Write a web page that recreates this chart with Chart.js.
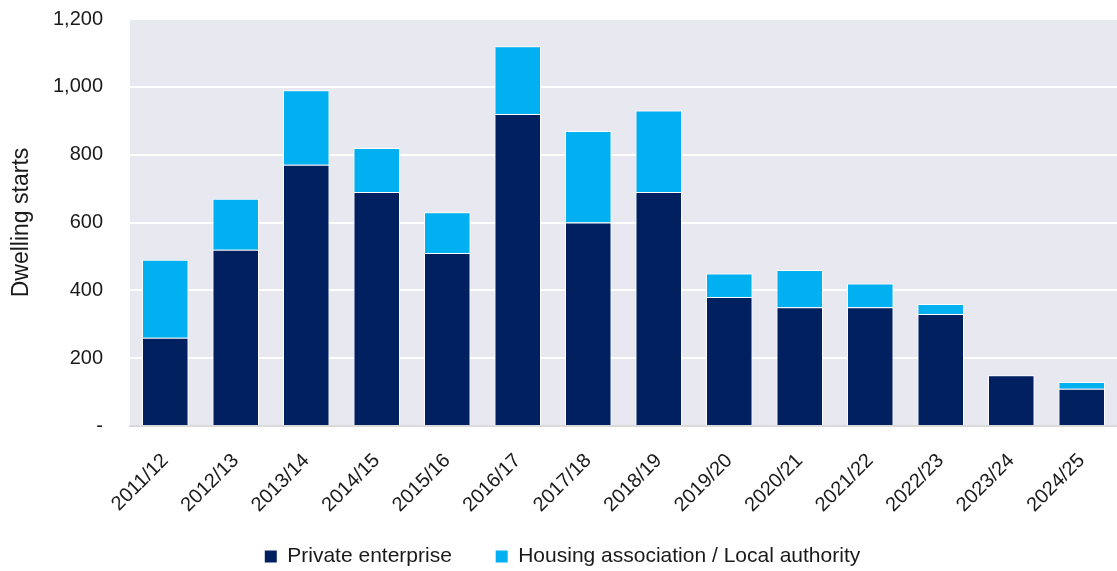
<!DOCTYPE html>
<html>
<head>
<meta charset="utf-8">
<script src="https://cdn.jsdelivr.net/npm/chart.js@4/dist/chart.umd.min.js"></script>
<style>
  html, body { margin: 0; padding: 0; background: #fff; }
  #wrap { width: 1117px; height: 571px; }
</style>
</head>
<body>
<div id="wrap"><canvas id="chart-starts"></canvas></div>
<script>
const years = ['2011/12', '2012/13', '2013/14', '2014/15', '2015/16', '2016/17', '2017/18',
               '2018/19', '2019/20', '2020/21', '2021/22', '2022/23', '2023/24', '2024/25'];
const privateStarts = [260, 520, 770, 690, 510, 920, 600, 690, 380, 350, 350, 330, 150, 110];
const housingStarts = [230, 150, 220, 130, 120, 200, 270, 240, 70, 110, 70, 30, 0, 20];
const yTicks = [0, 200, 400, 600, 800, 1000, 1200];

const FONT = "'Liberation Sans', Arial, sans-serif";
const INK = '#1a1a1a';

// grey-lilac fill behind the plot area
const plotBg = {
    id: 'plotBg',
    beforeDraw(chart) {
        const { ctx, chartArea: a } = chart;
        ctx.save();
        ctx.fillStyle = '#E8E8F1';
        ctx.fillRect(a.left, a.top, a.right - a.left, a.bottom - a.top);
        ctx.restore();
    }
};

new Chart(document.getElementById('chart-starts'), {
    type: 'bar',
    data: {
        labels: years,
        datasets: [
            {
                label: 'Private enterprise',
                data: privateStarts,
                backgroundColor: '#002060',
                borderColor: '#ffffff',
                borderWidth: 1,
                barPercentage: 0.66,
                categoryPercentage: 1
            },
            {
                label: 'Housing association / Local authority',
                data: housingStarts,
                backgroundColor: '#00B0F0',
                borderColor: '#ffffff',
                borderWidth: 1,
                barPercentage: 0.66,
                categoryPercentage: 1
            }
        ]
    },
    options: {
        responsive: true,
        maintainAspectRatio: false,
        animation: false,
        layout: { padding: { top: 0, right: 0, left: 8, bottom: -6 } },
        plugins: {
            tooltip: { enabled: false },
            legend: {
                position: 'bottom',
                labels: {
                    color: INK,
                    font: { family: FONT, size: 21 },
                    boxWidth: 12,
                    boxHeight: 12,
                    padding: 3,
                    // wider gap between the two legend entries
                    generateLabels(chart) {
                        const items = Chart.defaults.plugins.legend.labels.generateLabels(chart);
                        items.forEach((it, i) => {
                            it.lineWidth = 0;
                            if (i < items.length - 1) it.text += '       ';
                        });
                        return items;
                    }
                }
            }
        },
        scales: {
            x: {
                stacked: true,
                grid: { display: false, drawTicks: false },
                border: { display: true, color: '#D9D9D9', width: 2 },
                ticks: {
                    color: INK,
                    font: { family: FONT, size: 20 },
                    minRotation: 45,
                    maxRotation: 45,
                    padding: 23
                },
                afterFit(s) {
                    s.height = 117;
                    s.paddingLeft = 0;
                    s.paddingRight = 0;
                }
            },
            y: {
                stacked: true,
                min: 0,
                max: 1200,
                afterBuildTicks(s) { s.ticks = yTicks.map(v => ({ value: v })); },
                grid: { color: '#ffffff', lineWidth: 2, drawTicks: false },
                border: { display: false },
                ticks: {
                    color: INK,
                    font: { family: FONT, size: 20 },
                    padding: 27,
                    callback: v => v === 0 ? '-' : v.toLocaleString('en-US')
                },
                title: {
                    display: true,
                    text: 'Dwelling starts',
                    color: INK,
                    font: { family: FONT, size: 23 },
                    padding: { top: 0, bottom: 0 }
                },
                afterFit(s) {
                    s.width = 122;
                    s.paddingTop = 19;
                    s.paddingBottom = 0;
                }
            }
        }
    },
    plugins: [plotBg]
});
</script>
</body>
</html>
